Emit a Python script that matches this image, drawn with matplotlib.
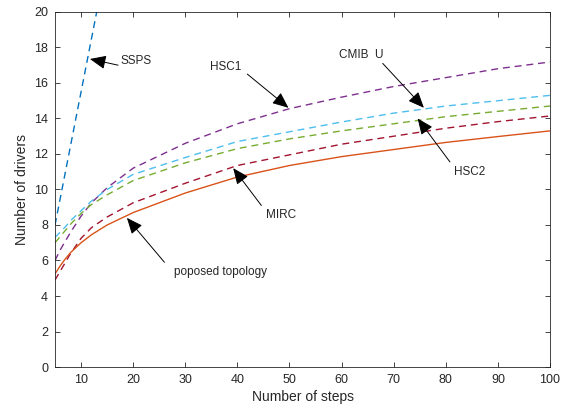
import matplotlib
matplotlib.use('Agg')
import matplotlib.pyplot as plt
import numpy as np

plt.rcParams['font.family'] = ['Liberation Sans', 'DejaVu Sans']

# values
steps = [5, 6, 7, 8, 10, 12, 15, 20, 30, 40, 50, 60, 70, 80, 90, 100]
proposed = [5.25, 5.7, 6.1, 6.45, 7.0, 7.45, 8.0, 8.7, 9.8, 10.7, 11.35, 11.85, 12.25, 12.65, 12.98, 13.3]
mirc = [4.9, 5.4, 5.9, 6.4, 7.25, 7.85, 8.45, 9.25, 10.35, 11.35, 11.95, 12.55, 13.0, 13.45, 13.82, 14.14]
hsc2 = [7.0, 7.35, 7.7, 8.05, 8.65, 9.15, 9.7, 10.5, 11.5, 12.3, 12.85, 13.3, 13.7, 14.1, 14.4, 14.7]
cmibu = [7.3, 7.6, 7.9, 8.25, 8.8, 9.35, 10.0, 10.85, 11.8, 12.7, 13.25, 13.8, 14.3, 14.7, 15.0, 15.3]
hsc1 = [6.0, 6.6, 7.1, 7.6, 8.5, 9.25, 10.1, 11.2, 12.6, 13.7, 14.55, 15.2, 15.8, 16.3, 16.8, 17.18]
ssps_steps = [5, 10, 15]
ssps = [8.0, 15.5, 23.0]

c_blue = (0, 0.447, 0.741)
c_orange = (0.85, 0.325, 0.098)
c_purple = (0.494, 0.184, 0.556)
c_green = (0.466, 0.674, 0.188)
c_cyan = (0.301, 0.745, 0.933)
c_red = (0.635, 0.078, 0.184)
gray = (0.15, 0.15, 0.15)

fig = plt.figure(figsize=(5.72, 4.11), dpi=100)
ax = fig.add_axes([0.0962, 0.107, 0.8653, 0.864])

dash = (0, (5, 3.5))
ax.plot(ssps_steps, ssps, color=c_blue, lw=1, linestyle=dash)
ax.plot(steps, hsc1, color=c_purple, lw=1, linestyle=dash)
ax.plot(steps, cmibu, color=c_cyan, lw=1, linestyle=dash)
ax.plot(steps, hsc2, color=c_green, lw=1, linestyle=dash)
ax.plot(steps, mirc, color=c_red, lw=1, linestyle=dash)
ax.plot(steps, proposed, color=c_orange, lw=1)

ax.set_xlim(5, 100)
ax.set_ylim(0, 20)
ax.set_xticks(np.arange(10, 101, 10))
ax.set_yticks(np.arange(0, 21, 2))
ax.tick_params(direction='in', top=True, right=True, length=3.5, width=0.6,
               colors=gray, labelsize=9, pad=5)
for s in ax.spines.values():
    s.set_color(gray)
    s.set_linewidth(0.6)
ax.set_xlabel('Number of steps', fontsize=10, color=gray, labelpad=3)
ax.set_ylabel('Number of drivers', fontsize=10, color=gray, labelpad=4)

arr = dict(arrowstyle='-|>,head_length=0.7,head_width=0.3', color='black',
           lw=0.7, mutation_scale=14, shrinkA=0, shrinkB=0)

def note(txt, tip, tail, pos, ha='center'):
    ax.annotate('', xy=tip, xytext=tail, arrowprops=arr)
    ax.text(pos[0], pos[1], txt, fontsize=8.5, ha=ha, va='center', color=gray)

note('SSPS', (11.7, 17.35), (17.1, 17.0), (17.5, 17.25), ha='left')
note('HSC1', (49.8, 14.6), (41.9, 16.5), (37.7, 16.9))
note('CMIB  U', (75.8, 14.6), (67.9, 17.1), (63.7, 17.6))
note('HSC2', (74.6, 14.0), (80.8, 11.55), (84.6, 11.0))
note('MIRC', (39.2, 11.2), (44.6, 9.1), (48.3, 8.56))
note('poposed topology', (18.8, 8.4), (26.0, 5.9), (36.7, 5.35))

fig.savefig('out.png', dpi=100)
